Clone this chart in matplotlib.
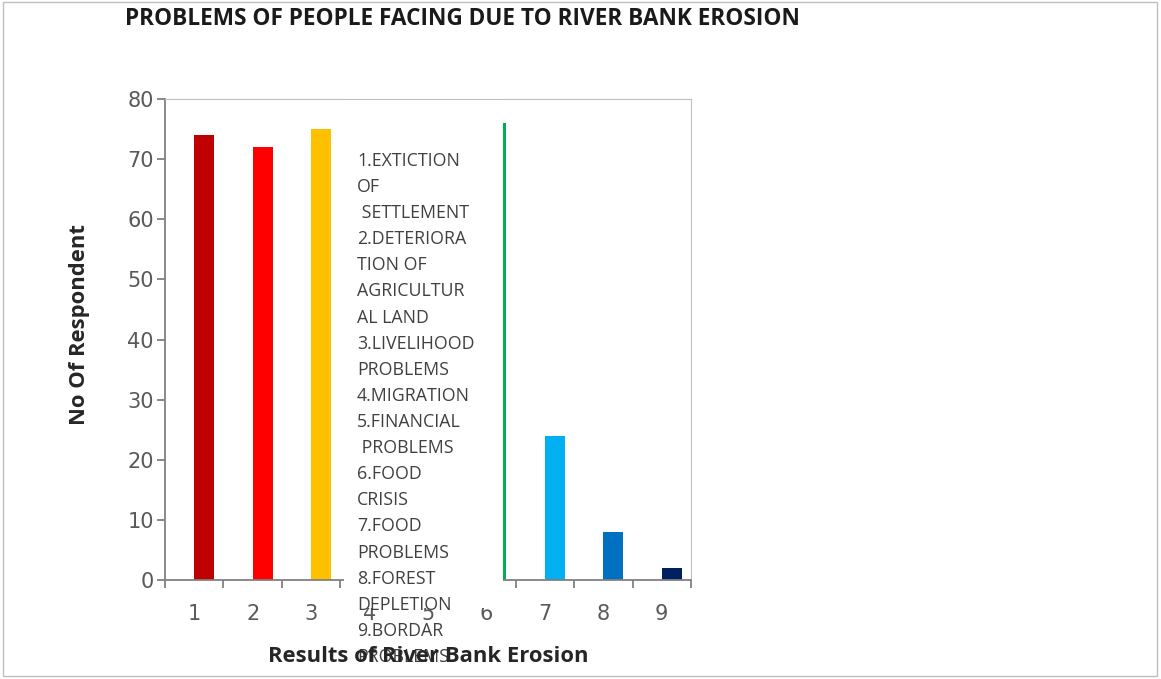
import matplotlib
matplotlib.use("Agg")
import matplotlib.pyplot as plt
from matplotlib.patches import Rectangle

categories = ["1", "2", "3", "4", "5", "6", "7", "8", "9"]
values = [74, 72, 75, 70, 70, 76, 24, 8, 2]
colors = ["#C00000", "#FF0000", "#FFC000", "#FFFF00", "#92D050",
          "#00B050", "#00B0F0", "#0070C0", "#002060"]
yticks = [0, 10, 20, 30, 40, 50, 60, 70, 80]
legend_lines = ["1.EXTICTION", "OF", " SETTLEMENT", "2.DETERIORA", "TION OF",
                "AGRICULTUR", "AL LAND", "3.LIVELIHOOD", "PROBLEMS",
                "4.MIGRATION", "5.FINANCIAL", " PROBLEMS", "6.FOOD", "CRISIS",
                "7.FOOD", "PROBLEMS", "8.FOREST", "DEPLETION", "9.BORDAR",
                "PROBLEMS"]
title = "PROBLEMS OF PEOPLE FACING DUE TO RIVER BANK EROSION"
xlabel = "Results of River Bank Erosion"
ylabel = "No Of Respondent"

W, H = 1161, 679
fig = plt.figure(figsize=(W / 100, H / 100), dpi=100)
fig.patch.set_facecolor("white")

def fx(px):
    return px / W

def fy(py):
    return 1 - py / H

ax = fig.add_axes([fx(165), fy(580), fx(691) - fx(165), fy(99) - fy(580)])
xs = list(range(1, len(categories) + 1))
ax.bar([x + 0.17 for x in xs], values, width=0.34, color=colors, zorder=2)
ax.set_xlim(0.5, len(categories) + 0.5)
ax.set_ylim(0, 80)
ax.set_yticks(yticks)
ax.set_yticklabels([str(v) for v in yticks])
ax.set_xticks(xs)
ax.set_xticklabels(categories)
ax.set_xticks([x + 0.5 for x in range(0, len(categories) + 1)], minor=True)
ax.tick_params(axis="x", which="major", length=0, pad=17, labelsize=15, labelcolor="#595959")
ax.tick_params(axis="x", which="minor", length=6, width=1.3, color="#808080", direction="out")
ax.tick_params(axis="y", which="major", length=6, width=1.3, color="#808080", labelsize=15,
               labelcolor="#595959", pad=2)
for s in ["left", "bottom"]:
    ax.spines[s].set_color("#808080")
    ax.spines[s].set_linewidth(1.3)
for s in ["top", "right"]:
    ax.spines[s].set_color("#BFBFBF")
    ax.spines[s].set_linewidth(0.8)

# white text box covering the middle categories
fig.patches.append(Rectangle((fx(344), fy(608)), fx(503) - fx(344), fy(100) - fy(608),
                             transform=fig.transFigure, facecolor="white",
                             edgecolor="none", zorder=5))

tfont = ["Open Sans", "DejaVu Sans"]
for i, line in enumerate(legend_lines):
    fig.text(fx(357), fy(161 + 26.1 * i), line, ha="left", va="center",
             fontsize=12.8, color="#404040", family=tfont, zorder=6)

fig.text(fx(428), fy(657), xlabel, ha="center", va="center", fontsize=15.8,
         fontweight="bold", color="#262626", family=tfont, zorder=7)
fig.text(fx(80), fy(325), ylabel, ha="center", va="center", rotation=90,
         fontsize=15.8, fontweight="bold", color="#262626", family=tfont, zorder=7)
fig.text(fx(125), fy(19), title, ha="left", va="center", fontsize=16.3,
         fontweight="bold", color="#1a1a1a", family=tfont, zorder=7)

# outer chart border
fig.patches.append(Rectangle((fx(3), fy(676)), fx(1157) - fx(3), fy(2) - fy(676),
                             transform=fig.transFigure, facecolor="none",
                             edgecolor="#BFBFBF", linewidth=1.0, zorder=8))

fig.savefig("out.png", dpi=100)
